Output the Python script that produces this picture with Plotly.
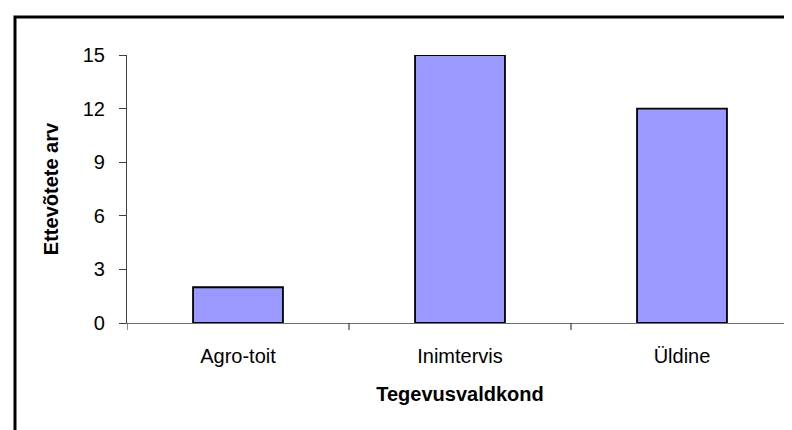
import plotly.graph_objects as go

categories = ["Agro-toit", "Inimtervis", "Üldine"]
values = [2, 15, 12]
y_ticks = [0, 3, 6, 9, 12, 15]
x_title = "Tegevusvaldkond"
y_title = "Ettevõtete arv"

fig = go.Figure()
fig.add_trace(go.Bar(
    x=categories, y=values, width=0.405,
    marker=dict(color="#9999FF", line=dict(color="black", width=1.8)),
))

font = "Liberation Sans, Arial, sans-serif"
L, R, T, B = 119, 7, 47, 115
W, H = 792, 430
pw, ph = W - L - R, H - T - B

fig.update_layout(
    width=W, height=H,
    margin=dict(l=L, r=R, t=T, b=B),
    paper_bgcolor="white", plot_bgcolor="white",
    showlegend=False,
    font=dict(family=font, size=20, color="black"),
    xaxis=dict(
        showline=True, linecolor="#707070", linewidth=1.2,
        ticks="", showgrid=False, zeroline=False,
        range=[-0.5, 2.5],
        title=dict(text="<b>" + x_title + "</b>", font=dict(size=20), standoff=20),
        ticklabelstandoff=15,
    ),
    yaxis=dict(
        showline=True, linecolor="#404040", linewidth=1.2,
        ticks="outside", ticklen=7, tickcolor="#404040", tickwidth=1.2,
        tickvals=y_ticks, range=[0, 15], showgrid=False, zeroline=False,
        ticklabelstandoff=10,
        title=dict(text="<b>" + y_title + "</b>", font=dict(size=20), standoff=18),
    ),
)

# category boundary ticks on x axis
for xb in [-0.5, 0.5, 1.5, 2.5]:
    fig.add_shape(type="line", xref="x", yref="paper", x0=xb, x1=xb, y0=0, y1=-7 / ph,
                  line=dict(color="#404040", width=1.2))

# outer chart border (only left and top fall inside the picture)
fig.add_shape(type="rect", xref="paper", yref="paper",
              x0=-(L - 7) / pw, x1=1 + 40 / pw, y0=-(B + 30) / ph, y1=1 + (T - 9) / ph,
              line=dict(color="black", width=3))

fig.write_html("out.html")
